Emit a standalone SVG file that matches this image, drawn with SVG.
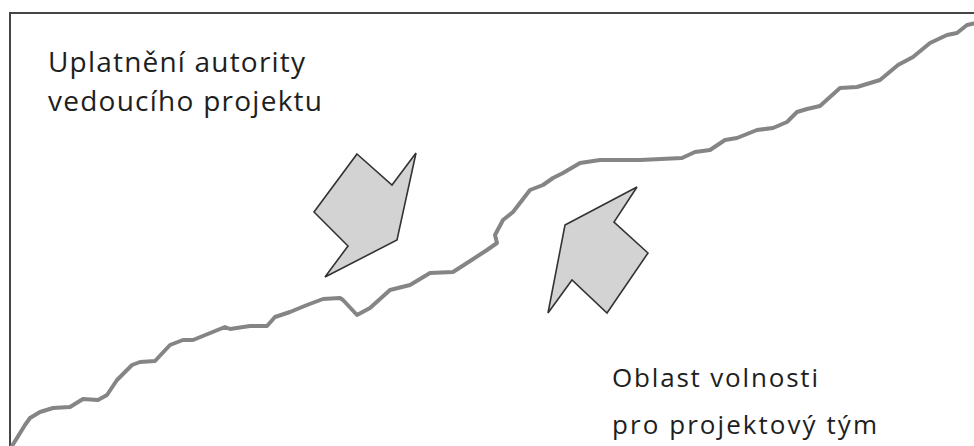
<svg xmlns="http://www.w3.org/2000/svg" width="974" height="446" viewBox="0 0 974 446">
<style>
.frame{fill:none;stroke:#454545;stroke-width:2}
.curve{fill:none;stroke:#858585;stroke-width:4;stroke-linejoin:round;stroke-linecap:round}
.arrow{fill:#d3d3d3;stroke:#333;stroke-width:1.6;stroke-linejoin:miter}
.lbl{font-family:"Open Sans","DejaVu Sans",sans-serif;fill:#1e1e1e}
</style>
<defs>
<filter id="soft" x="-5%" y="-5%" width="110%" height="110%"><feGaussianBlur stdDeviation="0.5"/></filter>
</defs>
<rect width="974" height="446" fill="#fff"/>
<path class="frame" d="M10,446 V13 H976"/>
<g id="boundary">
<path class="curve" filter="url(#soft)" d="M12,446 L17,438 L25,425 L30,418 L40,412 L53,408 L70,407 L83,399 L98,400 L107,395 L117,380 L132,365 L140,362 L155,361 L170,345 L183,340 L193,340 L225,327 L230,329 L250,326 L267,326 L275,317 L290,312 L307,305 L323,299 L340,298 L343,300 L357,315 L370,308 L390,290 L410,285 L430,273 L453,272 L467,263 L487,250 L497,243 L495,235 L503,220 L513,212 L530,190 L543,185 L553,178 L563,173 L580,163 L600,160 L640,160 L682,158 L695,152 L710,150 L725,140 L737,138 L757,130 L773,128 L787,122 L797,112 L807,109 L820,106 L840,88 L857,87 L880,80 L898,65 L913,57 L930,43 L947,35 L957,33 L967,25 L976,23"/>
</g>
<g id="arrow-authority">
<polygon class="arrow" points="357,154 392,185 416,153 397,240 325,277 348,246 314,212"/>
</g>
<g id="arrow-freedom">
<polygon class="arrow" points="565,225 637,187 614,222 648,253 607,313 572,280 548,313"/>
</g>
<g id="label-authority">
<text class="lbl" font-size="28" x="48" y="72" textLength="257" lengthAdjust="spacing">Uplatnění autority</text>
<text class="lbl" font-size="28" x="48" y="111" textLength="274" lengthAdjust="spacing">vedoucího projektu</text>
</g>
<g id="label-freedom">
<text class="lbl" font-size="26" x="612" y="387" textLength="206" lengthAdjust="spacing">Oblast volnosti</text>
<text class="lbl" font-size="26" x="612" y="434" textLength="265" lengthAdjust="spacing">pro projektový tým</text>
</g>
</svg>
